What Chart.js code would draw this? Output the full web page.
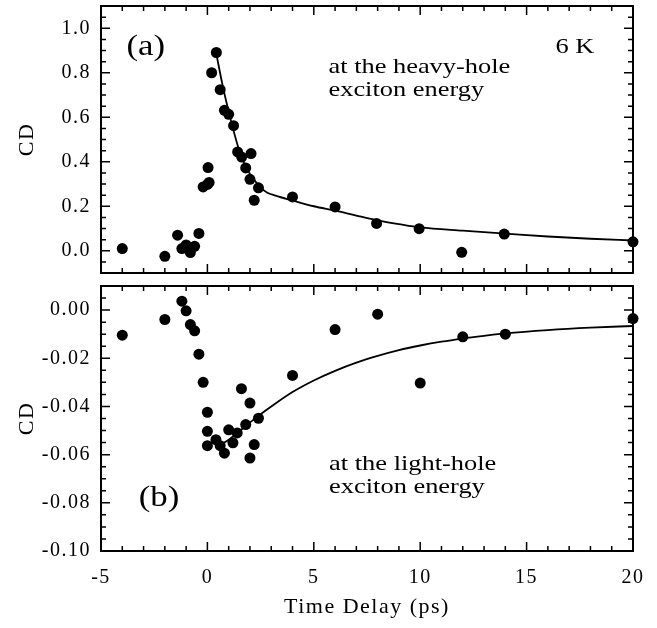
<!DOCTYPE html>
<html>
<head>
<meta charset="utf-8">
<script src="https://cdn.jsdelivr.net/npm/chart.js@4"></script>
<style>
  body { margin: 0; background: #fff; }
  #wrap { position: relative; width: 657px; height: 628px; background: #fff; }
  #topChart { position: absolute; left: 0; top: 0; }
  #botChart { position: absolute; left: 0; top: 280px; }
</style>
</head>
<body>
<div id="wrap">
  <canvas id="topChart" width="657" height="280"></canvas>
  <canvas id="botChart" width="657" height="348"></canvas>
</div>
<script>
/* CD vs time delay, (a) heavy-hole and (b) light-hole exciton energy */

// axis ticks
var xTicks = [-5, 0, 5, 10, 15, 20];
var topYTicks = [0, 0.2, 0.4, 0.6, 0.8, 1.0];
var botYTicks = [0, -0.02, -0.04, -0.06, -0.08, -0.10];

// (a) heavy-hole, measured points
var topX = [-4, -2, -1.4, -1.2, -1.0, -0.8, -0.6, -0.4, -0.2, 0, 0.08, 0.03, 0.2, 0.42,
            0.6, 0.8, 1.0, 1.23, 1.42, 1.61, 1.8, 2.0, 2.05, 2.2, 2.4, 4.0, 6.0, 7.95,
            9.95, 11.95, 13.95, 20];
var topY = [0.01, -0.025, 0.07, 0.01, 0.026, -0.008, 0.02, 0.078, 0.287, 0.298, 0.307,
            0.374, 0.80, 0.891, 0.724, 0.631, 0.613, 0.562, 0.444, 0.421, 0.372, 0.321,
            0.437, 0.227, 0.283, 0.242, 0.197, 0.123, 0.099, -0.007, 0.075, 0.04];

// (a) fitted curve
var topFitX = [0.42, 0.7, 0.95, 1.2, 1.45, 1.7, 2.0, 2.5, 2.8, 3.2, 4.0, 5.0, 6.0, 7.0,
               8.0, 9.0, 10, 12, 14, 16, 18, 20];
var topFitY = [0.885, 0.75, 0.645, 0.55, 0.465, 0.40, 0.345, 0.285, 0.262, 0.248, 0.226,
               0.20, 0.18, 0.158, 0.137, 0.12, 0.105, 0.09, 0.077, 0.064, 0.054, 0.046];

// (b) light-hole, measured points
var botX = [-4, -2, -1.2, -1.0, -0.8, -0.6, -0.4, -0.2, 0, 0, 0, 0.4, 0.6, 0.8, 1.0, 1.2,
            1.4, 1.6, 1.8, 2.0, 2.0, 2.2, 2.4, 4.0, 6.0, 8.0, 10, 12, 14, 20];
var botY = [-0.0104, -0.0039, 0.0037, -0.0003, -0.006, -0.0086, -0.0183, -0.030, -0.0424,
            -0.0503, -0.0563, -0.0538, -0.0563, -0.0594, -0.0497, -0.0551, -0.051, -0.0326,
            -0.0475, -0.0386, -0.0614, -0.0558, -0.0449, -0.0271, -0.0081, -0.0017,
            -0.0303, -0.0111, -0.010, -0.0035];

// (b) fitted curve
var botFitX = [0.7, 1.0, 1.5, 2.0, 2.5, 3.0, 4.0, 5.0, 6.0, 7.0, 8.0, 9.0, 10, 11, 12, 13,
               14, 16, 18, 20];
var botFitY = [-0.0555, -0.0538, -0.0503, -0.0467, -0.0432, -0.0400, -0.0340, -0.0292,
               -0.0252, -0.0218, -0.0190, -0.0166, -0.0147, -0.0131, -0.0118, -0.0107,
               -0.0097, -0.0083, -0.0073, -0.0066];

var FONT = '"Liberation Serif", "Times New Roman", serif';

function pairs(xs, ys) {
    return xs.map(function (v, i) { return { x: v, y: ys[i] }; });
}

function noPad(s) {
    s.paddingTop = 0; s.paddingBottom = 0; s.paddingLeft = 0; s.paddingRight = 0;
}

// letter spacing for the wide serif look of the original labels
var spacing = {
    id: 'spacing',
    beforeDraw: function (chart) { chart.ctx.letterSpacing = '1.5px'; },
    afterDraw: function (chart) { chart.ctx.letterSpacing = '0px'; }
};

// box frame with inward major / minor ticks on all four sides
function frameTicks(yMin, yMax, yMinor, yMajor) {
    return {
        id: 'frameTicks',
        beforeDatasetsDraw: function (chart) {
            var ctx = chart.ctx, a = chart.chartArea;
            var xs = chart.scales.x, ys = chart.scales.y;
            ctx.save();
            ctx.letterSpacing = '0px';
            ctx.strokeStyle = '#000';
            ctx.lineWidth = 1.5;
            ctx.beginPath();
            var i, v, p, len, n;
            n = Math.round((20 - (-5)) / 1);
            for (i = 1; i < n; i++) {
                v = -5 + i;
                p = xs.getPixelForValue(v);
                len = (v % 5 === 0) ? 9 : 5;
                ctx.moveTo(p, a.bottom); ctx.lineTo(p, a.bottom - len);
                ctx.moveTo(p, a.top); ctx.lineTo(p, a.top + len);
            }
            n = Math.round((yMax - yMin) / yMinor);
            for (i = 1; i < n; i++) {
                v = yMin + i * yMinor;
                p = ys.getPixelForValue(v);
                var r = v / yMajor;
                len = Math.abs(r - Math.round(r)) < 1e-6 ? 9 : 5;
                ctx.moveTo(a.left, p); ctx.lineTo(a.left + len, p);
                ctx.moveTo(a.right, p); ctx.lineTo(a.right - len, p);
            }
            ctx.stroke();
            ctx.lineWidth = 2;
            ctx.strokeRect(a.left, a.top, a.right - a.left, a.bottom - a.top);
            ctx.restore();
        }
    };
}

// text notes placed in data coordinates
function notes(items) {
    return {
        id: 'notes',
        afterDatasetsDraw: function (chart) {
            var ctx = chart.ctx, xs = chart.scales.x, ys = chart.scales.y;
            items.forEach(function (n) {
                ctx.save();
                ctx.letterSpacing = '0px';
                ctx.font = n.size + 'px ' + FONT;
                ctx.fillStyle = '#000';
                ctx.textAlign = 'left';
                ctx.textBaseline = 'alphabetic';
                ctx.translate(xs.getPixelForValue(n.x), ys.getPixelForValue(n.y));
                ctx.scale(1.2, 1);
                n.lines.forEach(function (t, i) { ctx.fillText(t, 0, i * 23); });
                ctx.restore();
            });
        }
    };
}

function makeChart(el, cfg) {
    return new Chart(el, {
        type: 'scatter',
        data: {
            datasets: [{
                data: pairs(cfg.px, cfg.py),
                pointRadius: 5.5,
                pointHoverRadius: 5.5,
                backgroundColor: '#000',
                borderWidth: 0,
                showLine: false,
                clip: false
            }, {
                data: pairs(cfg.fx, cfg.fy),
                showLine: true,
                pointRadius: 0,
                borderColor: '#000',
                borderWidth: 1.8,
                cubicInterpolationMode: 'monotone',
                clip: false
            }]
        },
        options: {
            responsive: false,
            animation: false,
            devicePixelRatio: 1,
            layout: { padding: cfg.padding },
            plugins: { legend: { display: false }, tooltip: { enabled: false } },
            scales: {
                x: {
                    type: 'linear',
                    min: -5, max: 20,
                    display: cfg.showX,
                    grid: { display: false, drawTicks: false },
                    border: { display: false },
                    afterBuildTicks: function (s) {
                        s.ticks = xTicks.map(function (v) { return { value: v }; });
                    },
                    afterFit: function (s) {
                        noPad(s);
                        if (cfg.showX) s.height = 77;
                    },
                    ticks: {
                        padding: 15,
                        autoSkip: false,
                        maxRotation: 0,
                        color: '#000',
                        font: { family: FONT, size: 20 },
                        callback: function (v) { return String(v); }
                    },
                    title: {
                        display: true,
                        text: 'Time Delay (ps)',
                        color: '#000',
                        font: { family: FONT, size: 22 },
                        padding: { top: 0, bottom: 8 }
                    }
                },
                y: {
                    type: 'linear',
                    min: cfg.yMin, max: cfg.yMax,
                    grid: { display: false, drawTicks: false },
                    border: { display: false },
                    afterBuildTicks: function (s) {
                        s.ticks = cfg.yTicks.map(function (v) { return { value: v }; });
                    },
                    afterFit: function (s) {
                        noPad(s);
                        s.width = 101;
                    },
                    ticks: {
                        padding: 10,
                        color: '#000',
                        font: { family: FONT, size: 20 },
                        callback: function (v) { return v.toFixed(cfg.digits); }
                    },
                    title: {
                        display: true,
                        text: 'CD',
                        color: '#000',
                        font: { family: FONT, size: 22 },
                        padding: { top: 14, bottom: 0 }
                    }
                }
            }
        },
        plugins: [spacing, frameTicks(cfg.yMin, cfg.yMax, cfg.yMinor, cfg.yMajor), notes(cfg.notes)]
    });
}

makeChart(document.getElementById('topChart'), {
    px: topX, py: topY, fx: topFitX, fy: topFitY,
    yMin: -0.1, yMax: 1.1, yMinor: 0.05, yMajor: 0.2,
    yTicks: topYTicks, digits: 1, showX: false,
    padding: { left: 0, right: 24, top: 6, bottom: 7 },
    notes: [
        { x: -3.8, y: 0.878, size: 29, lines: ['(a)'] },
        { x: 16.36, y: 0.887, size: 22, lines: ['6 K'] },
        { x: 5.69, y: 0.799, size: 22, lines: ['at the heavy-hole', 'exciton energy'] }
    ]
});

makeChart(document.getElementById('botChart'), {
    px: botX, py: botY, fx: botFitX, fy: botFitY,
    yMin: -0.10, yMax: 0.01, yMinor: 0.005, yMajor: 0.02,
    yTicks: botYTicks, digits: 2, showX: true,
    padding: { left: 0, right: 24, top: 6, bottom: 0 },
    notes: [
        { x: -3.23, y: -0.0813, size: 29, lines: ['(b)'] },
        { x: 5.72, y: -0.0665, size: 22, lines: ['at the light-hole', 'exciton energy'] }
    ]
});
</script>
</body>
</html>
